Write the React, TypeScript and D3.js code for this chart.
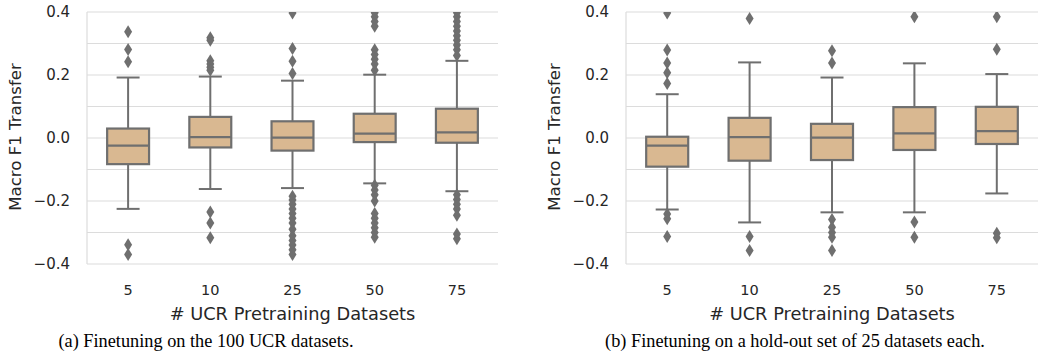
import React from 'react'
import * as d3 from 'd3'

const categories = ['5', '10', '25', '50', '75']
const yTicks = [-0.4, -0.2, 0, 0.2, 0.4]
const gridTicks = [-0.4, -0.3, -0.2, -0.1, 0, 0.1, 0.2, 0.3, 0.4]

// (a) finetuning on all 100 UCR datasets
const ucrQ1 = [-0.083, -0.030, -0.040, -0.013, -0.015]
const ucrMedian = [-0.024, 0.003, 0.001, 0.014, 0.018]
const ucrQ3 = [0.030, 0.067, 0.053, 0.077, 0.093]
const ucrLow = [-0.225, -0.162, -0.159, -0.144, -0.169]
const ucrHigh = [0.192, 0.195, 0.182, 0.201, 0.245]
const ucrOutliers = [
  [0.337, 0.281, 0.242, -0.339, -0.370],
  [0.318, 0.31, 0.245, 0.235, 0.225, 0.215, -0.235, -0.27, -0.317],
  [0.397, 0.284, 0.244, 0.205, -0.185, -0.197, -0.21, -0.225, -0.24, -0.255, -0.27, -0.29, -0.31, -0.325, -0.34, -0.355, -0.37],
  [0.398, 0.385, 0.37, 0.355, 0.28, 0.265, 0.25, 0.235, 0.215, -0.15, -0.165, -0.18, -0.2, -0.24, -0.255, -0.27, -0.285, -0.3, -0.315],
  [0.398, 0.385, 0.37, 0.355, 0.34, 0.325, 0.31, 0.295, 0.28, 0.262, -0.18, -0.195, -0.21, -0.225, -0.245, -0.305, -0.32],
]

// (b) finetuning on hold-out sets of 25
const holdQ1 = [-0.091, -0.072, -0.070, -0.038, -0.019]
const holdMedian = [-0.024, 0.003, 0.001, 0.015, 0.022]
const holdQ3 = [0.004, 0.064, 0.045, 0.098, 0.099]
const holdLow = [-0.227, -0.268, -0.236, -0.236, -0.176]
const holdHigh = [0.139, 0.240, 0.192, 0.237, 0.203]
const holdOutliers = [
  [0.397, 0.279, 0.238, 0.207, 0.173, -0.241, -0.256, -0.313],
  [0.379, -0.313, -0.357],
  [0.277, 0.238, -0.259, -0.283, -0.3, -0.315, -0.357],
  [0.385, -0.267, -0.315],
  [0.385, 0.282, -0.302, -0.317],
]

const boxFill = '#d9b891'
const edge = '#6f6f6f'
const gridColor = '#dcdcdc'
const textColor = '#262626'
const font = 'DejaVu Sans, sans-serif'

const top = 12
const bottom = 264
const diamond = 'M0,-6.5L4,0L0,6.5L-4,0Z'

function Panel({ id, left, right, q1, med, q3, lo, hi, outliers, caption, captionX }) {
  const x = d3.scaleBand().domain(categories).range([left, right])
  const y = d3.scaleLinear().domain([-0.4, 0.4]).range([bottom, top])
  const fmt = d3.format('.1f')
  const bw = x.bandwidth() * 0.51
  const cap = bw / 2
  return (
    <g>
      <defs>
        <clipPath id={id}>
          <rect x={left} y={top} width={right - left} height={bottom - top + 8} />
        </clipPath>
      </defs>
      {gridTicks.map(t => (
        <line key={t} x1={left} x2={right} y1={y(t)} y2={y(t)} stroke={gridColor} strokeWidth={1.2} />
      ))}
      <line x1={left} x2={left} y1={top} y2={bottom} stroke={gridColor} strokeWidth={1.2} />
      {yTicks.map(t => (
        <text key={t} x={left - 17} y={y(t)} dy="0.35em" textAnchor="end" fontSize={15} fontFamily={font} fill={textColor}>
          {fmt(t)}
        </text>
      ))}
      <text transform={`translate(${left - 72},${(top + bottom) / 2 - 1}) rotate(-90)`} textAnchor="middle" dy="0.35em"
        fontSize={16.6} fontFamily={font} fill={textColor}>Macro F1 Transfer</text>
      <g clipPath={`url(#${id})`}>
        {categories.map((c, i) => {
          const cx = x(c) + x.bandwidth() / 2
          return (
            <g key={c}>
              <line x1={cx} x2={cx} y1={y(q3[i])} y2={y(hi[i])} stroke={edge} strokeWidth={2} />
              <line x1={cx} x2={cx} y1={y(q1[i])} y2={y(lo[i])} stroke={edge} strokeWidth={2} />
              <line x1={cx - cap / 2 - 1} x2={cx + cap / 2 + 1} y1={y(hi[i])} y2={y(hi[i])} stroke={edge} strokeWidth={2} />
              <line x1={cx - cap / 2 - 1} x2={cx + cap / 2 + 1} y1={y(lo[i])} y2={y(lo[i])} stroke={edge} strokeWidth={2} />
              <rect x={cx - bw / 2} y={y(q3[i])} width={bw} height={y(q1[i]) - y(q3[i])} fill={boxFill} stroke={edge} strokeWidth={2.2} />
              <line x1={cx - bw / 2} x2={cx + bw / 2} y1={y(med[i])} y2={y(med[i])} stroke={edge} strokeWidth={2.2} />
              {outliers[i].map((v, k) => (
                <path key={k} d={diamond} transform={`translate(${cx},${y(v)})`} fill={edge} />
              ))}
            </g>
          )
        })}
      </g>
      {categories.map(c => (
        <text key={c} x={x(c) + x.bandwidth() / 2} y={290} dy="0.35em" textAnchor="middle" fontSize={14.5} fontFamily={font} fill={textColor}>
          {c}
        </text>
      ))}
      <text x={(left + right) / 2} y={314} dy="0.35em" textAnchor="middle" fontSize={17.8} fontFamily={font} fill={textColor}>
        # UCR Pretraining Datasets
      </text>
      <text x={captionX} y={347} textAnchor="middle" fontSize={18.3} fontFamily="Liberation Serif, Times New Roman, serif" fill="#000">
        {caption}
      </text>
    </g>
  )
}

export default function App() {
  return (
    <svg width={1038} height={360} style={{ position: 'absolute', left: 0, top: 0, background: '#fff' }}>
      <Panel id="clipA" left={87} right={498} q1={ucrQ1} med={ucrMedian} q3={ucrQ3} lo={ucrLow} hi={ucrHigh}
        outliers={ucrOutliers} caption="(a) Finetuning on the 100 UCR datasets." captionX={206} />
      <Panel id="clipB" left={626} right={1038} q1={holdQ1} med={holdMedian} q3={holdQ3} lo={holdLow} hi={holdHigh}
        outliers={holdOutliers} caption="(b) Finetuning on a hold-out set of 25 datasets each." captionX={795} />
    </svg>
  )
}
